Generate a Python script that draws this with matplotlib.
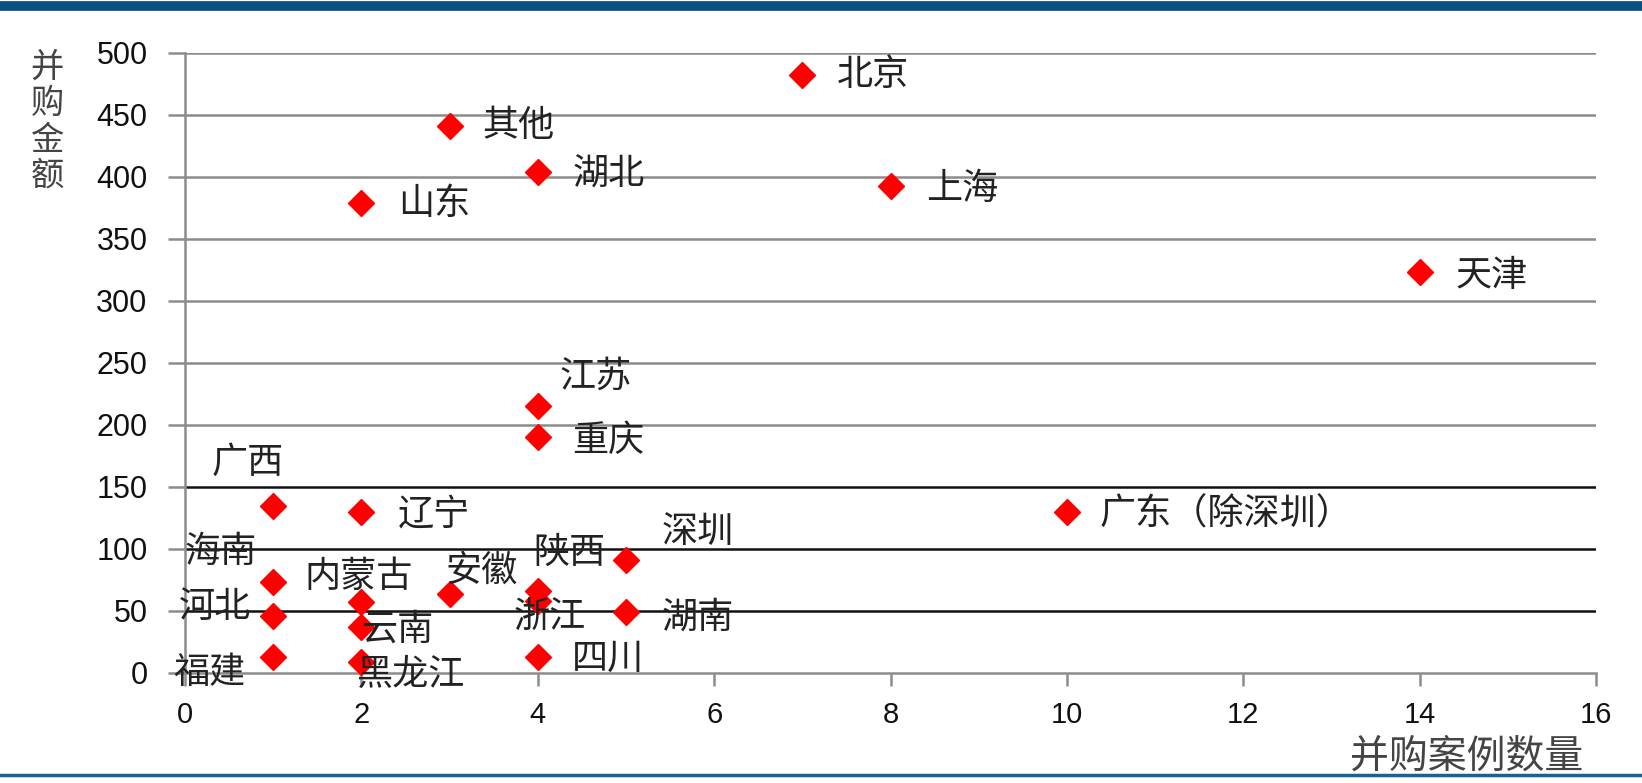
import matplotlib
matplotlib.use("Agg")
import matplotlib.pyplot as plt
from matplotlib.lines import Line2D

plt.rcParams['font.family'] = ['Noto Sans CJK SC', 'DejaVu Sans']

regions = ['北京', '其他', '湖北', '上海', '山东', '天津', '江苏', '重庆', '广西', '辽宁',
           '广东（除深圳）', '深圳', '海南', '内蒙古', '安徽', '陕西', '浙江', '河北', '湖南',
           '云南', '福建', '黑龙江', '四川']
deal_counts = [7, 3, 4, 8, 2, 14, 4, 4, 1, 2, 10, 5, 1, 2, 3, 4, 4, 1, 5, 2, 1, 2, 4]
deal_amounts = [482, 441, 404, 393, 379, 323, 215, 190, 135, 130, 130, 91, 73, 57, 64, 66, 58,
                46, 49, 37, 13, 9, 13]
x_ticks = [0, 2, 4, 6, 8, 10, 12, 14, 16]
y_ticks = [0, 50, 100, 150, 200, 250, 300, 350, 400, 450, 500]

# label offsets (pixels, relative to marker centre; +y is up)
label_offsets = [(33, 0), (31, 0), (33, -2), (34, -3), (35, -1), (34, -3), (21, 28), (33, -3),
                 (-59, 41), (35, -3), (31, -3), (34, 27), (-85, 29), (-54, 24), (-4, 22),
                 (-4, 37), (-23, -15), (-90, 9), (34, -5), (1, -2), (-95, -15), (-5, -13),
                 (33, -2)]

W, H = 1642, 783
fig = plt.figure(figsize=(W / 100, H / 100), dpi=100)
ax = fig.add_axes([185 / W, 1 - 673 / H, (1596 - 185) / W, (673 - 53) / H])

ax.set_xlim(0, 16)
ax.set_ylim(0, 500)
ax.set_xticks(x_ticks)
ax.set_yticks(y_ticks)

grid_gray = '#8c8c8c'
for yv in y_ticks[1:]:
    col = '#111111' if yv <= 150 else grid_gray
    ax.axhline(yv, color=col, lw=1.8, zorder=1)

for s in ['top', 'right']:
    ax.spines[s].set_visible(False)
for s in ['left', 'bottom']:
    ax.spines[s].set_color(grid_gray)
    ax.spines[s].set_linewidth(1.8)

ax.tick_params(axis='both', direction='out', width=1.8, color=grid_gray, labelcolor='#111111')
ax.tick_params(axis='x', length=9, pad=11, labelsize=21)
ax.tick_params(axis='y', length=12, pad=15, labelsize=22)
for lab in ax.get_xticklabels() + ax.get_yticklabels():
    lab.set_fontfamily(['Liberation Sans', 'DejaVu Sans'])

ax.plot(deal_counts, deal_amounts, linestyle='none', marker='D', markersize=13.5,
        color='#ff0000', markeredgecolor='#ff0000', zorder=3, clip_on=False)

scale = 1642 / 1568
for name, xv, yv, (dx, dy) in zip(regions, deal_counts, deal_amounts, label_offsets):
    ax.annotate(name, (xv, yv), xytext=(dx * scale, dy * scale), textcoords='offset pixels',
                ha='left', va='center', fontsize=26, color='#222222', zorder=4,
                annotation_clip=False)

# y label stacked vertically
fig.text(47 / W, 1 - 122 / H, '并\n购\n金\n额', ha='center', va='center', fontsize=24,
         color='#444444', linespacing=1.05)
# x label
fig.text(1583 / W, 1 - 757 / H, '并购案例数量', ha='right', va='center', fontsize=28,
         color='#444444')

# top and bottom border lines
fig.add_artist(Line2D([0, 1], [1 - 6 / H, 1 - 6 / H], color='#0b4f82', lw=7,
                      transform=fig.transFigure))
fig.add_artist(Line2D([0, 1], [1 - 775 / H, 1 - 775 / H], color='#1a5f95', lw=2.5,
                      transform=fig.transFigure))

fig.savefig('out.png', dpi=100)
